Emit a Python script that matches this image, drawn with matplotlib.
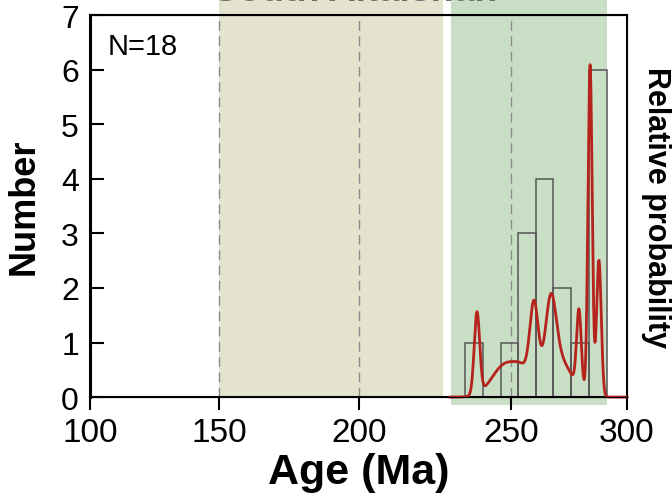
import numpy as np
import matplotlib.pyplot as plt
from matplotlib.scale import FuncScale

plt.rcParams['font.family'] = ['Liberation Sans', 'DejaVu Sans']

# histogram of zircon ages
bin_edges = [234.9, 240.8, 246.7, 253.0, 260.8, 268.1, 275.9, 283.6, 291.4]
counts = [1, 0, 1, 3, 4, 2, 1, 6]

# relative probability peaks (age, sigma, height)
peak_ages = [238.8, 248.3, 255.0, 259.9, 267.2, 269.5, 279.3, 284.1, 287.9]
peak_sigmas = [0.9, 4.5, 3.0, 1.8, 2.2, 6.0, 1.0, 0.9, 1.0]
peak_heights = [1.5, 0.6, 0.35, 1.45, 1.2, 0.75, 1.42, 6.05, 2.5]

# shaded age intervals
tan_span = (150, 227.6)
green_span = (230.3, 291.2)
dashed_ages = [150, 200, 250]

x_ticks = [100, 150, 200, 250, 300]
y_ticks = [0, 1, 2, 3, 4, 5, 6, 7]
n_label = 'N=18'
title = 'South Altaishan'

# the original axis is not evenly spaced between labels
tick_frac = [0.0, 0.240, 0.501, 0.784, 1.0]


def fwd(x):
    return np.interp(x, x_ticks, tick_frac)


def inv(f):
    return np.interp(f, tick_frac, x_ticks)


fig = plt.figure(figsize=(6.72, 5.02), dpi=100)
ax = fig.add_axes([0.134, 0.207, 0.799, 0.761])
ax.set_xscale(FuncScale(ax, (fwd, inv)))
ax.set_xlim(100, 300)
ax.set_ylim(0, 7)

ax.axvspan(*tan_span, ymin=0, ymax=1.06, color='#e4e3cd', lw=0, clip_on=False, zorder=0)
ax.axvspan(*green_span, ymin=-0.022, ymax=1.06, color='#c9dfc5', lw=0, clip_on=False, zorder=0)
for a in dashed_ages:
    ax.axvline(a, color='#8c8c8c', ls=(0, (7, 4)), lw=1.0, zorder=1)

ax.bar(bin_edges[:-1], counts, width=np.diff(bin_edges), align='edge',
       facecolor='none', edgecolor='#555555', lw=1.1, zorder=2)

ax.set_xticks(x_ticks)
ax.set_yticks(y_ticks)
ax.tick_params(axis='y', direction='in', length=10, width=1.5, labelsize=23, pad=8)
ax.tick_params(axis='x', direction='out', length=9, width=1.5, labelsize=24, pad=5)
for s in ['top', 'bottom', 'right']:
    ax.spines[s].set_linewidth(1.5)
ax.spines['left'].set_linewidth(2.2)

ax.set_xlabel('Age (Ma)', fontsize=31, fontweight='bold', labelpad=3)
ax.set_ylabel('Number', fontsize=26, fontweight='bold', labelpad=14)
ax.text(0.032, 0.898, n_label, transform=ax.transAxes, fontsize=21, va='baseline')

# probability curve on its own axis
ax2 = ax.twinx()
ax2.set_ylim(0, 7)
ax2.set_yticks([])
age_grid = np.linspace(230, 300, 2000)
prob = np.zeros_like(age_grid)
for c, s, h in zip(peak_ages, peak_sigmas, peak_heights):
    prob += h * np.exp(-0.5 * ((age_grid - c) / s) ** 2)
ax2.plot(age_grid, prob, color='#b5231c', lw=2, clip_on=False)
ax2.set_ylabel('Relative probability', fontsize=22, fontweight='bold', rotation=-90, labelpad=32)

fig.text(0.528, 0.998, title, fontsize=27, fontweight='bold', color='#6e6e6e',
         ha='center', va='baseline')

fig.savefig('out.png', dpi=100)
